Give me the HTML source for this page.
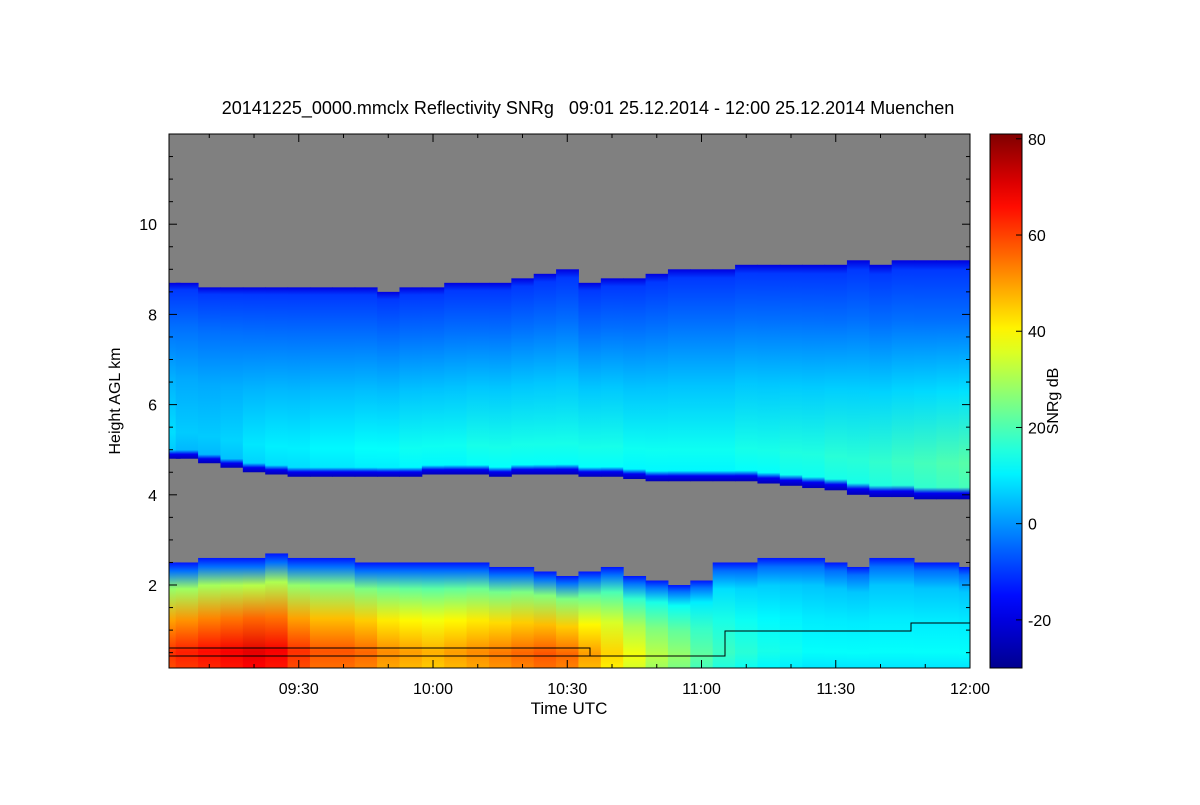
<!DOCTYPE html>
<html><head><meta charset="utf-8">
<style>
body{margin:0;background:#fff;font-family:"Liberation Sans",sans-serif;}
svg text{font-family:"Liberation Sans",sans-serif;font-size:16px;fill:#000;}
</style></head>
<body>
<svg id="chart" width="1200" height="800" viewBox="0 0 1200 800" xmlns="http://www.w3.org/2000/svg">
<defs id="defs"></defs>
<text x="588" y="114" text-anchor="middle" style="font-size:18px;white-space:pre" xml:space="preserve">20141225_0000.mmclx Reflectivity SNRg   09:01 25.12.2014 - 12:00 25.12.2014 Muenchen</text>
<rect x="169" y="134" width="801" height="534" fill="#808080"/>
<g id="cells"></g>
<g id="lines"></g>
<rect x="169" y="134" width="801" height="534" fill="none" stroke="#000" stroke-width="1"/>
<g id="axes"></g>
<text x="569" y="714" text-anchor="middle" style="font-size:17px">Time UTC</text>
<text transform="translate(120,401) rotate(-90)" text-anchor="middle">Height AGL km</text>
<g id="cbar"></g>
<text transform="translate(1058,401) rotate(-90)" text-anchor="middle">SNRg dB</text>
</svg>
<script>
// data: minutes after 09:00, every 5 min
const times=[1,5,10,15,20,25,30,35,40,45,50,55,60,65,70,75,80,85,90,95,100,105,110,115,120,125,130,135,140,145,150,155,160,165,170,175,180];
const upperTop=[8.7,8.7,8.6,8.6,8.6,8.6,8.6,8.6,8.6,8.6,8.5,8.6,8.6,8.7,8.7,8.7,8.8,8.9,9.0,8.7,8.8,8.8,8.9,9.0,9.0,9.0,9.1,9.1,9.1,9.1,9.1,9.2,9.1,9.2,9.2,9.2,9.2];
const upperBase=[4.8,4.8,4.7,4.6,4.5,4.45,4.4,4.4,4.4,4.4,4.4,4.4,4.45,4.45,4.45,4.4,4.45,4.45,4.45,4.4,4.4,4.35,4.3,4.3,4.3,4.3,4.3,4.25,4.2,4.15,4.1,4.0,3.95,3.95,3.9,3.9,3.9];
const upperPeak=[8,6,6,7,9,10,10,11,11,12,12,13,13,13,14,14,14,14,14,14,14,13,13,13,13,13,14,14,15,15,16,16,17,18,19,20,21];
const lowerTop=[2.5,2.5,2.6,2.6,2.6,2.7,2.6,2.6,2.6,2.5,2.5,2.5,2.5,2.5,2.5,2.4,2.4,2.3,2.2,2.3,2.4,2.2,2.1,2.0,2.1,2.5,2.5,2.6,2.6,2.6,2.5,2.4,2.6,2.6,2.5,2.5,2.4];
const lowerPeak=[62,64,66,68,70,68,62,58,58,56,52,50,48,50,52,54,56,58,56,50,44,38,32,28,22,18,16,14,13,12,12,12,12,12,12,12,12];
const yTicks=[2,4,6,8,10];
const xTickLabels=["09:30","10:00","10:30","11:00","11:30","12:00"];
const xTickMins=[30,60,90,120,150,180];
const cbTicks=[-20,0,20,40,60,80];

const X0=169,X1=970,Y0=134,Y1=668;
const tMin=1,tMax=180,hMin=0.16,hMax=12.0,vMin=-30,vMax=81;
const xs=t=>X0+(t-tMin)/(tMax-tMin)*(X1-X0);
const ys=h=>Y1-(h-hMin)/(hMax-hMin)*(Y1-Y0);
const NS="http://www.w3.org/2000/svg";
function jet(v){let t=Math.max(0,Math.min(1,(v-vMin)/(vMax-vMin)));
 const st=[[0,0,0,143],[0.125,0,0,255],[0.375,0,255,255],[0.625,255,255,0],[0.875,255,0,0],[1,128,0,0]];
 for(let i=1;i<st.length;i++){if(t<=st[i][0]){const a=st[i-1],b=st[i],f=(t-a[0])/(b[0]-a[0]);
  return `rgb(${Math.round(a[1]+f*(b[1]-a[1]))},${Math.round(a[2]+f*(b[2]-a[2]))},${Math.round(a[3]+f*(b[3]-a[3]))})`;}}
 return "rgb(128,0,0)";}
const defs=document.getElementById('defs'),cells=document.getElementById('cells');
function grad(id,stops){const g=document.createElementNS(NS,'linearGradient');g.setAttribute('id',id);
 g.setAttribute('x1','0');g.setAttribute('y1','0');g.setAttribute('x2','0');g.setAttribute('y2','1');
 stops.forEach(s=>{const e=document.createElementNS(NS,'stop');e.setAttribute('offset',s[0]);e.setAttribute('stop-color',jet(s[1]));g.appendChild(e);});
 defs.appendChild(g);}
times.forEach((t,i)=>{
 const xa=Math.max(X0,xs(t-2.5)),xb=Math.min(X1,xs(t+2.5));
 const p=upperPeak[i];
 grad('u'+i,[[0,-20],[0.04,-10],[0.25,-4],[0.55,p*0.4],[0.85,p],[0.95,p-2],[0.975,-18],[1,-25]]);
 const r=document.createElementNS(NS,'rect');
 
 
 r.setAttribute('x',xa);r.setAttribute('width',xb-xa+0.5);
 r.setAttribute('y',ys(upperTop[i]));r.setAttribute('height',ys(upperBase[i])-ys(upperTop[i]));
 r.setAttribute('fill',`url(#u${i})`);cells.appendChild(r);
 const q=lowerPeak[i];
 grad('l'+i,[[0,-14],[0.08,-4],[0.25,Math.max(2,q*0.45)],[0.55,q*0.8],[0.85,q],[1,q-3]]);
 const r2=document.createElementNS(NS,'rect');
 
 
 r2.setAttribute('x',xa);r2.setAttribute('width',xb-xa+0.5);
 r2.setAttribute('y',ys(lowerTop[i]));r2.setAttribute('height',Y1-ys(lowerTop[i]));
 r2.setAttribute('fill',`url(#l${i})`);cells.appendChild(r2);
});
// black mode lines
const lines=document.getElementById('lines');
[["M169,648 H590 V656","mode-line-1"],["M169,656 H725 V631 H911 V623 H970","mode-line-2"]].forEach(d=>{
 const p=document.createElementNS(NS,'path');p.setAttribute('d',d[0]);
 
 
 p.setAttribute('fill','none');p.setAttribute('stroke','#000');p.setAttribute('stroke-width','1');lines.appendChild(p);});
// axes
const ax=document.getElementById('axes');
function line(x1,y1,x2,y2,g){const l=document.createElementNS(NS,'line');l.setAttribute('x1',x1);l.setAttribute('y1',y1);l.setAttribute('x2',x2);l.setAttribute('y2',y2);l.setAttribute('stroke','#000');g.appendChild(l);}
for(let h=0.5;h<=11.9;h+=0.5){const y=ys(h),big=Math.abs(h%2)<0.01;line(X0,y,X0+(big?8:4),y,ax);line(X1,y,X1-(big?8:4),y,ax);}
yTicks.forEach(h=>{const t=document.createElementNS(NS,'text');
 
 
 t.setAttribute('x',157);t.setAttribute('y',ys(h)+6);t.setAttribute('text-anchor','end');t.textContent=h;ax.appendChild(t);});
for(let m=10;m<=180;m+=10){const x=xs(m),big=m%30===0;line(x,Y1,x,Y1-(big?8:4),ax);line(x,Y0,x,Y0+(big?8:4),ax);}
xTickMins.forEach((m,i)=>{const t=document.createElementNS(NS,'text');
 
 
 t.setAttribute('x',xs(m));t.setAttribute('y',694);t.setAttribute('text-anchor','middle');t.textContent=xTickLabels[i];ax.appendChild(t);});
// colorbar
const cb=document.getElementById('cbar');
grad('cbg',Array.from({length:23},(_,k)=>[k/22,vMax-(vMax-vMin)*k/22]));
const cr=document.createElementNS(NS,'rect');


cr.setAttribute('x',990);cr.setAttribute('y',Y0);cr.setAttribute('width',32);cr.setAttribute('height',Y1-Y0);
cr.setAttribute('fill','url(#cbg)');cr.setAttribute('stroke','#000');cb.appendChild(cr);
const cy=v=>Y0+(vMax-v)/(vMax-vMin)*(Y1-Y0);
cbTicks.forEach(v=>{line(1022,cy(v),1016,cy(v),cb);const t=document.createElementNS(NS,'text');
 
 
 t.setAttribute('x',1028);t.setAttribute('y',cy(v)+6);t.textContent=v;cb.appendChild(t);});
</script>
</body></html>
